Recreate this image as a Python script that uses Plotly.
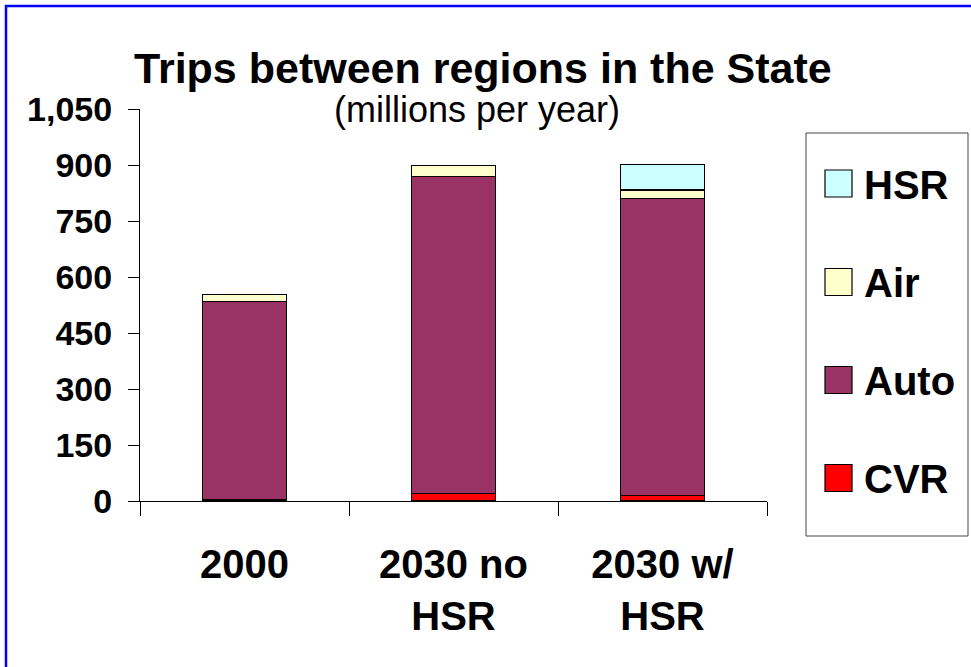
import plotly.graph_objects as go

# ---- data ----
categories = ["2000", "2030 no<br>HSR", "2030 w/<br>HSR"]
series_names = ["CVR", "Auto", "Air", "HSR"]
cvr = [3, 20, 14]
auto = [531, 849, 796]
air = [20, 30, 23]
hsr = [0, 0, 69]
series_values = [cvr, auto, air, hsr]
series_colors = ["#FF0000", "#993366", "#FFFFCC", "#CCFFFF"]
y_tick_vals = [0, 150, 300, 450, 600, 750, 900, 1050]
y_tick_text = ["0", "150", "300", "450", "600", "750", "900", "1,050"]

FONT = "Arial, Liberation Sans, sans-serif"
W, H = 971, 667
ML, MR, MT, MB = 140, 204, 109, 166
PW = W - ML - MR
PH = H - MT - MB


def px_x(px):
    return (px - ML) / PW


def px_y(py):
    return (H - MB - py) / PH


fig = go.Figure()
for name, vals, col in zip(series_names, series_values, series_colors):
    fig.add_trace(go.Bar(
        name=name, x=categories, y=vals,
        marker=dict(color=col, line=dict(color="#000000", width=1.2)),
        showlegend=False,
    ))

shapes = []
annotations = []

# outer blue frame
shapes.append(dict(type="rect", xref="paper", yref="paper",
                   x0=px_x(6), x1=px_x(980), y0=px_y(680), y1=px_y(6),
                   line=dict(color="#0000FF", width=2.5), layer="below"))

# legend box
shapes.append(dict(type="rect", xref="paper", yref="paper",
                   x0=px_x(806), x1=px_x(968), y0=px_y(536), y1=px_y(133),
                   line=dict(color="#444444", width=1)))

legend_centers = {"HSR": 183.5, "Air": 282, "Auto": 380, "CVR": 478}
for name, col in zip(series_names, series_colors):
    cy = legend_centers[name]
    shapes.append(dict(type="rect", xref="paper", yref="paper",
                       x0=px_x(825), x1=px_x(852),
                       y0=px_y(cy + 13.5), y1=px_y(cy - 13.5),
                       fillcolor=col, line=dict(color="#000000", width=1.2)))
    annotations.append(dict(text=name, xref="paper", yref="paper",
                            x=px_x(862), y=px_y(cy + 1), xanchor="left", yanchor="middle",
                            showarrow=False,
                            font=dict(family=FONT, size=40, color="#000000", weight="bold")))

# title + subtitle
annotations.append(dict(text="Trips between regions in the State", xref="paper", yref="paper",
                        x=px_x(483), y=px_y(68), xanchor="center", yanchor="middle",
                        showarrow=False,
                        font=dict(family=FONT, size=43, color="#000000", weight="bold")))
annotations.append(dict(text="(millions per year)", xref="paper", yref="paper",
                        x=px_x(477), y=px_y(110), xanchor="center", yanchor="middle",
                        showarrow=False,
                        font=dict(family=FONT, size=36, color="#000000")))

fig.update_layout(
    width=W, height=H,
    margin=dict(l=ML, r=MR, t=MT, b=MB, pad=0),
    barmode="stack", bargap=0.6,
    paper_bgcolor="#FFFFFF", plot_bgcolor="#FFFFFF",
    showlegend=False,
    shapes=shapes, annotations=annotations,
    font=dict(family=FONT, color="#000000"),
)
fig.update_yaxes(
    range=[0, 1050], tickvals=y_tick_vals, ticktext=y_tick_text,
    showgrid=False, zeroline=False,
    showline=True, linecolor="#000000", linewidth=1,
    ticks="outside", ticklen=11, tickcolor="#000000", tickwidth=1,
    ticklabelstandoff=9,
    tickfont=dict(family=FONT, size=34, color="#000000", weight="bold"),
)
fig.update_xaxes(
    type="category", tickson="boundaries",
    showgrid=False, zeroline=False,
    showline=True, linecolor="#000000", linewidth=1,
    ticks="outside", ticklen=14, tickcolor="#000000", tickwidth=1,
    ticklabelstandoff=28,
    tickfont=dict(family=FONT, size=40, color="#000000", weight="bold"),
)

fig.write_html("out.html")
